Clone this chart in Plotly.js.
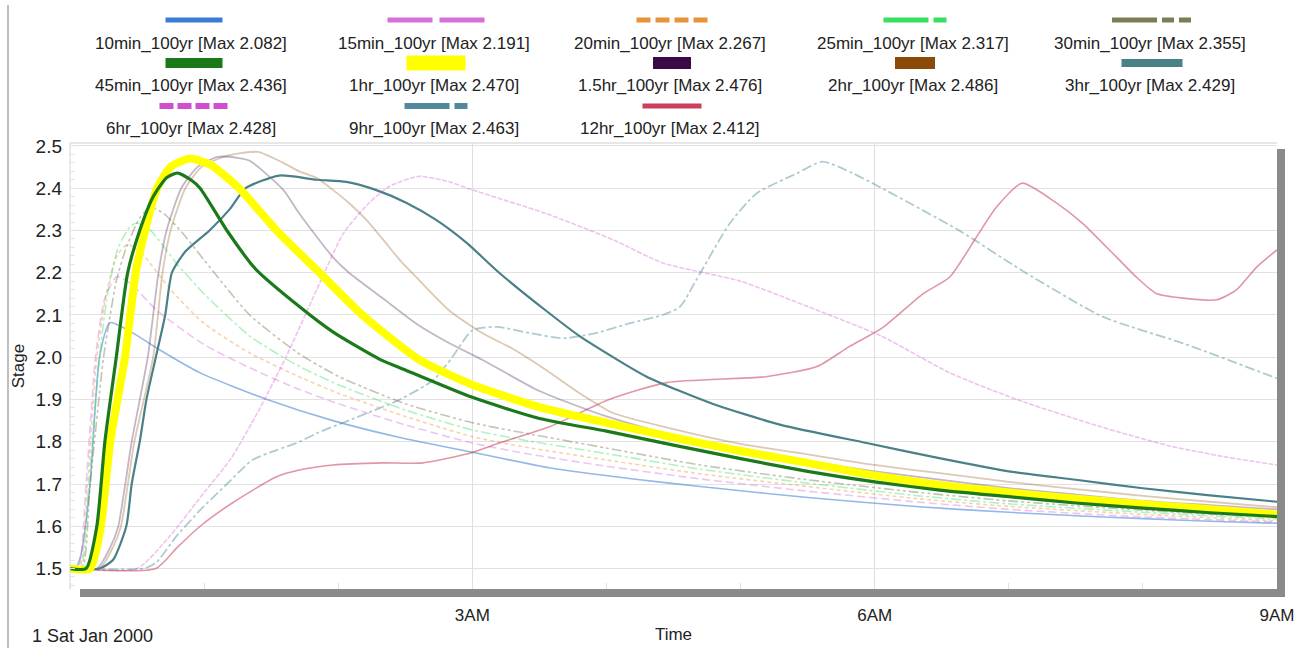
<!DOCTYPE html>
<html><head><meta charset="utf-8">
<script src="https://cdn.plot.ly/plotly-3.0.1.min.js"></script>
<style>html,body{margin:0;padding:0;background:#fff;}#chart{width:1307px;height:648px;}</style>
</head><body><div id="chart"></div>
<script>
// ---------------- DATA ----------------
const seriesNames = ["10min_100yr","15min_100yr","20min_100yr","25min_100yr","30min_100yr",
  "45min_100yr","1hr_100yr","1.5hr_100yr","2hr_100yr","3hr_100yr","6hr_100yr","9hr_100yr","12hr_100yr"];
const seriesMax = [2.082,2.191,2.267,2.317,2.355,2.436,2.470,2.476,2.486,2.429,2.428,2.463,2.412];

// time in hours after midnight, stage values
const t10min = [0,0.04,0.08,0.15,0.22,0.3,0.47,0.67,0.97,1.47,1.96,2.46,3.0,3.58,4.2,4.7,5.5,6.33,7.0,7.5,8.0,8.5,9.0];
const v10min = [1.5,1.5,1.53,1.7,2.0,2.082,2.057,2.017,1.963,1.9,1.85,1.81,1.775,1.738,1.712,1.694,1.668,1.646,1.633,1.625,1.618,1.612,1.607];

const t15min = [0,0.06,0.12,0.19,0.26,0.35,0.45,0.65,1.0,1.34,1.7,2.0,2.5,3.0,3.4,4.0,4.7,5.5,6.33,7.0,8.0,9.0];
const v15min = [1.5,1.5,1.7,2.0,2.14,2.191,2.175,2.11,2.03,1.975,1.925,1.89,1.84,1.797,1.772,1.742,1.712,1.683,1.657,1.64,1.622,1.61];

const t20min = [0,0.07,0.13,0.2,0.27,0.35,0.43,0.55,0.75,1.0,1.34,1.7,2.0,2.5,3.0,3.4,4.0,4.7,5.5,6.33,7.0,8.0,9.0];
const v20min = [1.5,1.5,1.7,2.0,2.15,2.24,2.267,2.24,2.16,2.08,2.01,1.955,1.915,1.86,1.812,1.787,1.757,1.724,1.694,1.665,1.647,1.628,1.613];

const t25min = [0,0.08,0.14,0.22,0.28,0.36,0.45,0.5,0.6,0.8,1.0,1.34,1.7,2.0,2.5,3.0,3.4,4.0,4.7,5.5,6.33,7.0,8.0,9.0];
const v25min = [1.5,1.5,1.7,2.0,2.15,2.26,2.31,2.317,2.3,2.22,2.15,2.05,1.98,1.935,1.875,1.828,1.803,1.772,1.735,1.702,1.672,1.653,1.633,1.617];

const t30min = [0,0.09,0.15,0.25,0.3,0.345,0.42,0.52,0.6,0.7,0.85,1.0,1.34,1.7,2.0,2.5,3.0,3.4,4.0,4.7,5.5,6.33,7.0,8.0,9.0];
const v30min = [1.5,1.5,1.7,2.0,2.1,2.18,2.26,2.33,2.355,2.34,2.29,2.23,2.1,2.01,1.955,1.89,1.845,1.82,1.785,1.745,1.71,1.68,1.66,1.638,1.62];

const t45min = [0,0.12,0.2,0.26,0.345,0.43,0.52,0.62,0.72,0.8,0.9,0.97,1.17,1.38,1.71,1.96,2.31,2.5,3.0,3.5,4.0,4.5,5.0,5.5,6.0,6.5,7.0,7.5,8.0,8.5,9.0];
const v45min = [1.5,1.5,1.6,1.8,2.0,2.2,2.3,2.38,2.425,2.436,2.42,2.4,2.3,2.21,2.12,2.06,1.995,1.97,1.905,1.855,1.825,1.792,1.76,1.73,1.705,1.685,1.67,1.655,1.643,1.632,1.623];

const t1hr = [0,0.15,0.23,0.3,0.41,0.49,0.56,0.65,0.75,0.89,1.05,1.26,1.54,1.86,2.18,2.61,3.0,3.5,4.0,4.5,5.0,5.5,6.0,6.5,7.0,7.5,8.0,8.5,9.0];
const v1hr = [1.5,1.5,1.6,1.8,2.0,2.2,2.3,2.4,2.45,2.47,2.455,2.4,2.3,2.2,2.1,1.993,1.935,1.882,1.845,1.81,1.778,1.75,1.72,1.697,1.68,1.665,1.652,1.64,1.628];

const t1_5hr = [0,0.2,0.3,0.36,0.46,0.58,0.66,0.72,0.83,0.95,1.1,1.25,1.34,1.59,1.71,1.84,1.96,2.08,2.33,2.58,2.83,3.08,3.5,4.0,4.5,5.0,5.5,6.0,6.5,7.0,7.5,8.0,8.5,9.0];
const v1_5hr = [1.5,1.5,1.55,1.6,1.8,2.0,2.2,2.3,2.4,2.45,2.474,2.472,2.465,2.396,2.34,2.285,2.237,2.2,2.14,2.08,2.033,1.993,1.92,1.86,1.815,1.785,1.755,1.73,1.71,1.69,1.675,1.66,1.65,1.64];

const t2hr = [0,0.22,0.32,0.38,0.48,0.62,0.69,0.75,0.86,0.98,1.15,1.4,1.59,1.71,1.84,1.96,2.08,2.21,2.33,2.46,2.58,2.83,3.08,3.3,3.55,3.8,4.05,4.5,5.0,5.5,6.0,6.5,7.0,7.5,8.0,8.5,9.0];
const v2hr = [1.5,1.5,1.55,1.6,1.8,2.0,2.2,2.3,2.4,2.45,2.475,2.486,2.46,2.44,2.424,2.396,2.365,2.325,2.28,2.23,2.19,2.11,2.056,2.02,1.97,1.915,1.868,1.83,1.795,1.77,1.745,1.725,1.705,1.688,1.672,1.658,1.645];

const t3hr = [0,0.22,0.32,0.42,0.46,0.52,0.57,0.64,0.71,0.76,0.86,1.04,1.19,1.31,1.56,1.84,2.06,2.28,2.51,2.73,2.96,3.2,3.55,3.8,4.3,4.79,5.3,5.94,6.5,7.0,7.5,8.0,8.5,9.0];
const v3hr = [1.5,1.5,1.52,1.6,1.7,1.8,1.9,2.0,2.1,2.2,2.25,2.3,2.35,2.4,2.43,2.42,2.415,2.396,2.365,2.325,2.27,2.2,2.11,2.05,1.954,1.89,1.84,1.797,1.76,1.73,1.71,1.69,1.673,1.658];

const t6hr = [0,0.5,0.74,1.0,1.2,1.4,1.61,1.84,2.04,2.23,2.38,2.6,2.83,3.0,3.55,4.05,4.42,5.0,5.5,6.05,6.56,7.06,7.68,8.2,8.6,9.0];
const v6hr = [1.5,1.5,1.575,1.68,1.76,1.87,2.0,2.16,2.294,2.365,2.404,2.428,2.415,2.396,2.34,2.278,2.223,2.18,2.12,2.05,1.963,1.9,1.836,1.79,1.765,1.745];

const t9hr = [0,0.55,0.64,0.79,0.97,1.17,1.36,1.54,1.71,1.84,2.21,2.46,2.71,2.85,3.0,3.18,3.43,3.68,3.92,4.17,4.42,4.55,4.67,4.92,5.12,5.42,5.61,5.84,6.03,6.63,7.11,7.7,8.3,9.0];
const v9hr = [1.5,1.5,1.513,1.575,1.638,1.7,1.757,1.78,1.8,1.82,1.867,1.9,1.946,2.0,2.064,2.072,2.057,2.045,2.057,2.08,2.1,2.12,2.183,2.317,2.388,2.435,2.463,2.435,2.404,2.3,2.203,2.096,2.033,1.95];

const t12hr = [0,0.64,0.8,0.97,1.21,1.54,1.71,1.96,2.33,2.63,2.98,3.2,3.58,4.02,4.45,5.19,5.57,5.81,6.06,6.36,6.56,6.76,6.91,7.1,7.36,7.55,7.8,7.95,8.1,8.3,8.55,8.7,8.85,9.0];
const v12hr = [1.5,1.5,1.55,1.6,1.655,1.717,1.733,1.745,1.75,1.75,1.773,1.797,1.836,1.9,1.94,1.954,1.978,2.025,2.07,2.15,2.19,2.285,2.356,2.412,2.364,2.317,2.238,2.19,2.151,2.14,2.136,2.16,2.214,2.254];

const xTickVals = [3,6,9];
const xTickText = ["3AM","6AM","9AM"];
const yTickVals = [1.5,1.6,1.7,1.8,1.9,2.0,2.1,2.2,2.3,2.4,2.5];
const dateLabel = "1 Sat Jan 2000";
const xTitle = "Time";
const yTitle = "Stage";

// ---------------- STYLES ----------------
const seriesT = [t10min,t15min,t20min,t25min,t30min,t45min,t1hr,t1_5hr,t2hr,t3hr,t6hr,t9hr,t12hr];
const seriesV = [v10min,v15min,v20min,v25min,v30min,v45min,v1hr,v1_5hr,v2hr,v3hr,v6hr,v9hr,v12hr];
const colors = ["#3a7bd5","#d56fd9","#e8923a","#39e05f","#7d7d55","#1a7a1a","#ffff00","#3b0a45","#8b4a0a","#4a8088","#d04fd0","#4f8a9a","#c8405a"];
const plotWidth = [1.6,1.6,1.6,1.6,1.6,3.2,8,1.8,1.8,2.2,1.6,1.8,1.6];
const plotOpacity = [0.55,0.4,0.4,0.4,0.45,1,1,0.3,0.3,1,0.35,0.45,0.55];
const plotDash = ["solid","8px,4px","4px,3px","10px,3px,3px,3px","10px,3px,3px,3px,3px,3px","solid","solid","solid","solid","solid","5px,1.5px","10px,3px,3px,3px","solid"];
const drawOrder = [0,1,2,3,4,7,8,10,11,12,9,6,5];

const legLen = [57,97,71,63,80,57,59,38,40,61,69,63,59];
const legThick = [5,5,5,5,5,10,15,12,12,8,6,6,5];
const legDash = ["solid","45px,7px","14px,5px","45px,5px,13px,5px","45px,5px,12px,5px,12px,5px","solid","solid","solid","solid","solid","14px,4px","45px,5px,13px,5px","solid"];
const colCenters = [191,434,670,913,1150];
const rowText = [44,86,128];
const rowSample = [20,63,106];

const W = 1307, H = 648, ML = 70, MR = 30, MT = 143, MB = 59;
const PW = W - ML - MR, PH = H - MT - MB;
const px2x = p => (p - ML) / PW;
const py2y = p => (H - MB - p) / PH;

const traces = drawOrder.map(i => ({
  type: "scatter", mode: "lines", name: seriesNames[i],
  x: seriesT[i], y: seriesV[i], opacity: plotOpacity[i],
  line: {color: colors[i], width: plotWidth[i], dash: plotDash[i], shape: "spline", smoothing: 0.6},
  hoverinfo: "x+y+name", showlegend: false
}));

const FONT = "Liberation Sans, Arial, sans-serif";
const annotations = [];
const shapes = [];
seriesNames.forEach((n, i) => {
  const c = i % 5, r = Math.floor(i / 5);
  annotations.push({xref: "paper", yref: "paper", x: px2x(colCenters[c]), y: py2y(rowText[r]),
    xanchor: "center", yanchor: "middle", showarrow: false,
    text: n + " [Max " + seriesMax[i].toFixed(3) + "]", font: {family: FONT, size: 17, color: "#222"}});
  const cx = colCenters[c] + (c === 0 ? 3 : 2);
  shapes.push({type: "line", xref: "paper", yref: "paper",
    x0: px2x(cx - legLen[i] / 2), x1: px2x(cx + legLen[i] / 2),
    y0: py2y(rowSample[r]), y1: py2y(rowSample[r]),
    line: {color: colors[i], width: legThick[i], dash: legDash[i]}});
});
annotations.push({xref: "paper", yref: "paper", x: px2x(30), y: py2y(636), xanchor: "left", yanchor: "middle",
  showarrow: false, text: dateLabel, font: {family: FONT, size: 18, color: "#222"}});

// frame + drop shadow
shapes.push({type: "line", xref: "paper", yref: "paper", x0: 0, x1: 1, y0: 1, y1: 1, line: {color: "#cfcfcf", width: 1}});
shapes.push({type: "line", xref: "paper", yref: "paper", x0: 0, x1: 0, y0: 0, y1: 1, line: {color: "#d5d5d5", width: 1}});
shapes.push({type: "rect", xref: "paper", yref: "paper", x0: 1, x1: px2x(W - MR + 8), y0: py2y(H - MB + 8), y1: py2y(MT + 6),
  fillcolor: "#8a8a8a", line: {width: 0}});
shapes.push({type: "rect", xref: "paper", yref: "paper", x0: px2x(ML + 10), x1: px2x(W - MR + 8), y0: py2y(H - MB + 8), y1: 0,
  fillcolor: "#8a8a8a", line: {width: 0}});
shapes.push({type: "line", xref: "paper", yref: "paper", x0: px2x(8), x1: px2x(8), y0: py2y(5), y1: py2y(H), line: {color: "#aaaaaa", width: 1.5}});

const layout = {
  width: W, height: H, margin: {l: ML, r: MR, t: MT, b: MB},
  paper_bgcolor: "#fff", plot_bgcolor: "#fff", showlegend: false,
  font: {family: FONT, color: "#222"},
  xaxis: {range: [0, 9], tickmode: "array", tickvals: xTickVals, ticktext: xTickText,
    showgrid: true, gridcolor: "#dedede", gridwidth: 1, zeroline: false, showline: false,
    ticks: "", ticklabelstandoff: 14, tickfont: {size: 17, color: "#222"},
    minor: {tickmode: "linear", tick0: 0, dtick: 1, ticks: "inside", ticklen: 6, tickcolor: "#e0e0e0", showgrid: false},
    title: {text: xTitle, font: {size: 17, color: "#222"}, standoff: 4}},
  yaxis: {range: [1.4515, 2.507], tickmode: "array", tickvals: yTickVals, ticktext: yTickVals.map(v => v.toFixed(1)),
    showgrid: true, gridcolor: "#e2e2e2", gridwidth: 1, zeroline: false, showline: false,
    ticks: "", ticklabelstandoff: 7, tickfont: {size: 19, color: "#222"},
    minor: {tickmode: "linear", tick0: 1.5, dtick: 0.02, ticks: "inside", ticklen: 5, tickcolor: "#e6e6e6", showgrid: false},
    title: {text: yTitle, font: {size: 17, color: "#222"}, standoff: 6}},
  annotations: annotations, shapes: shapes
};
Plotly.newPlot("chart", traces, layout, {displayModeBar: false, staticPlot: true});
</script></body></html>
